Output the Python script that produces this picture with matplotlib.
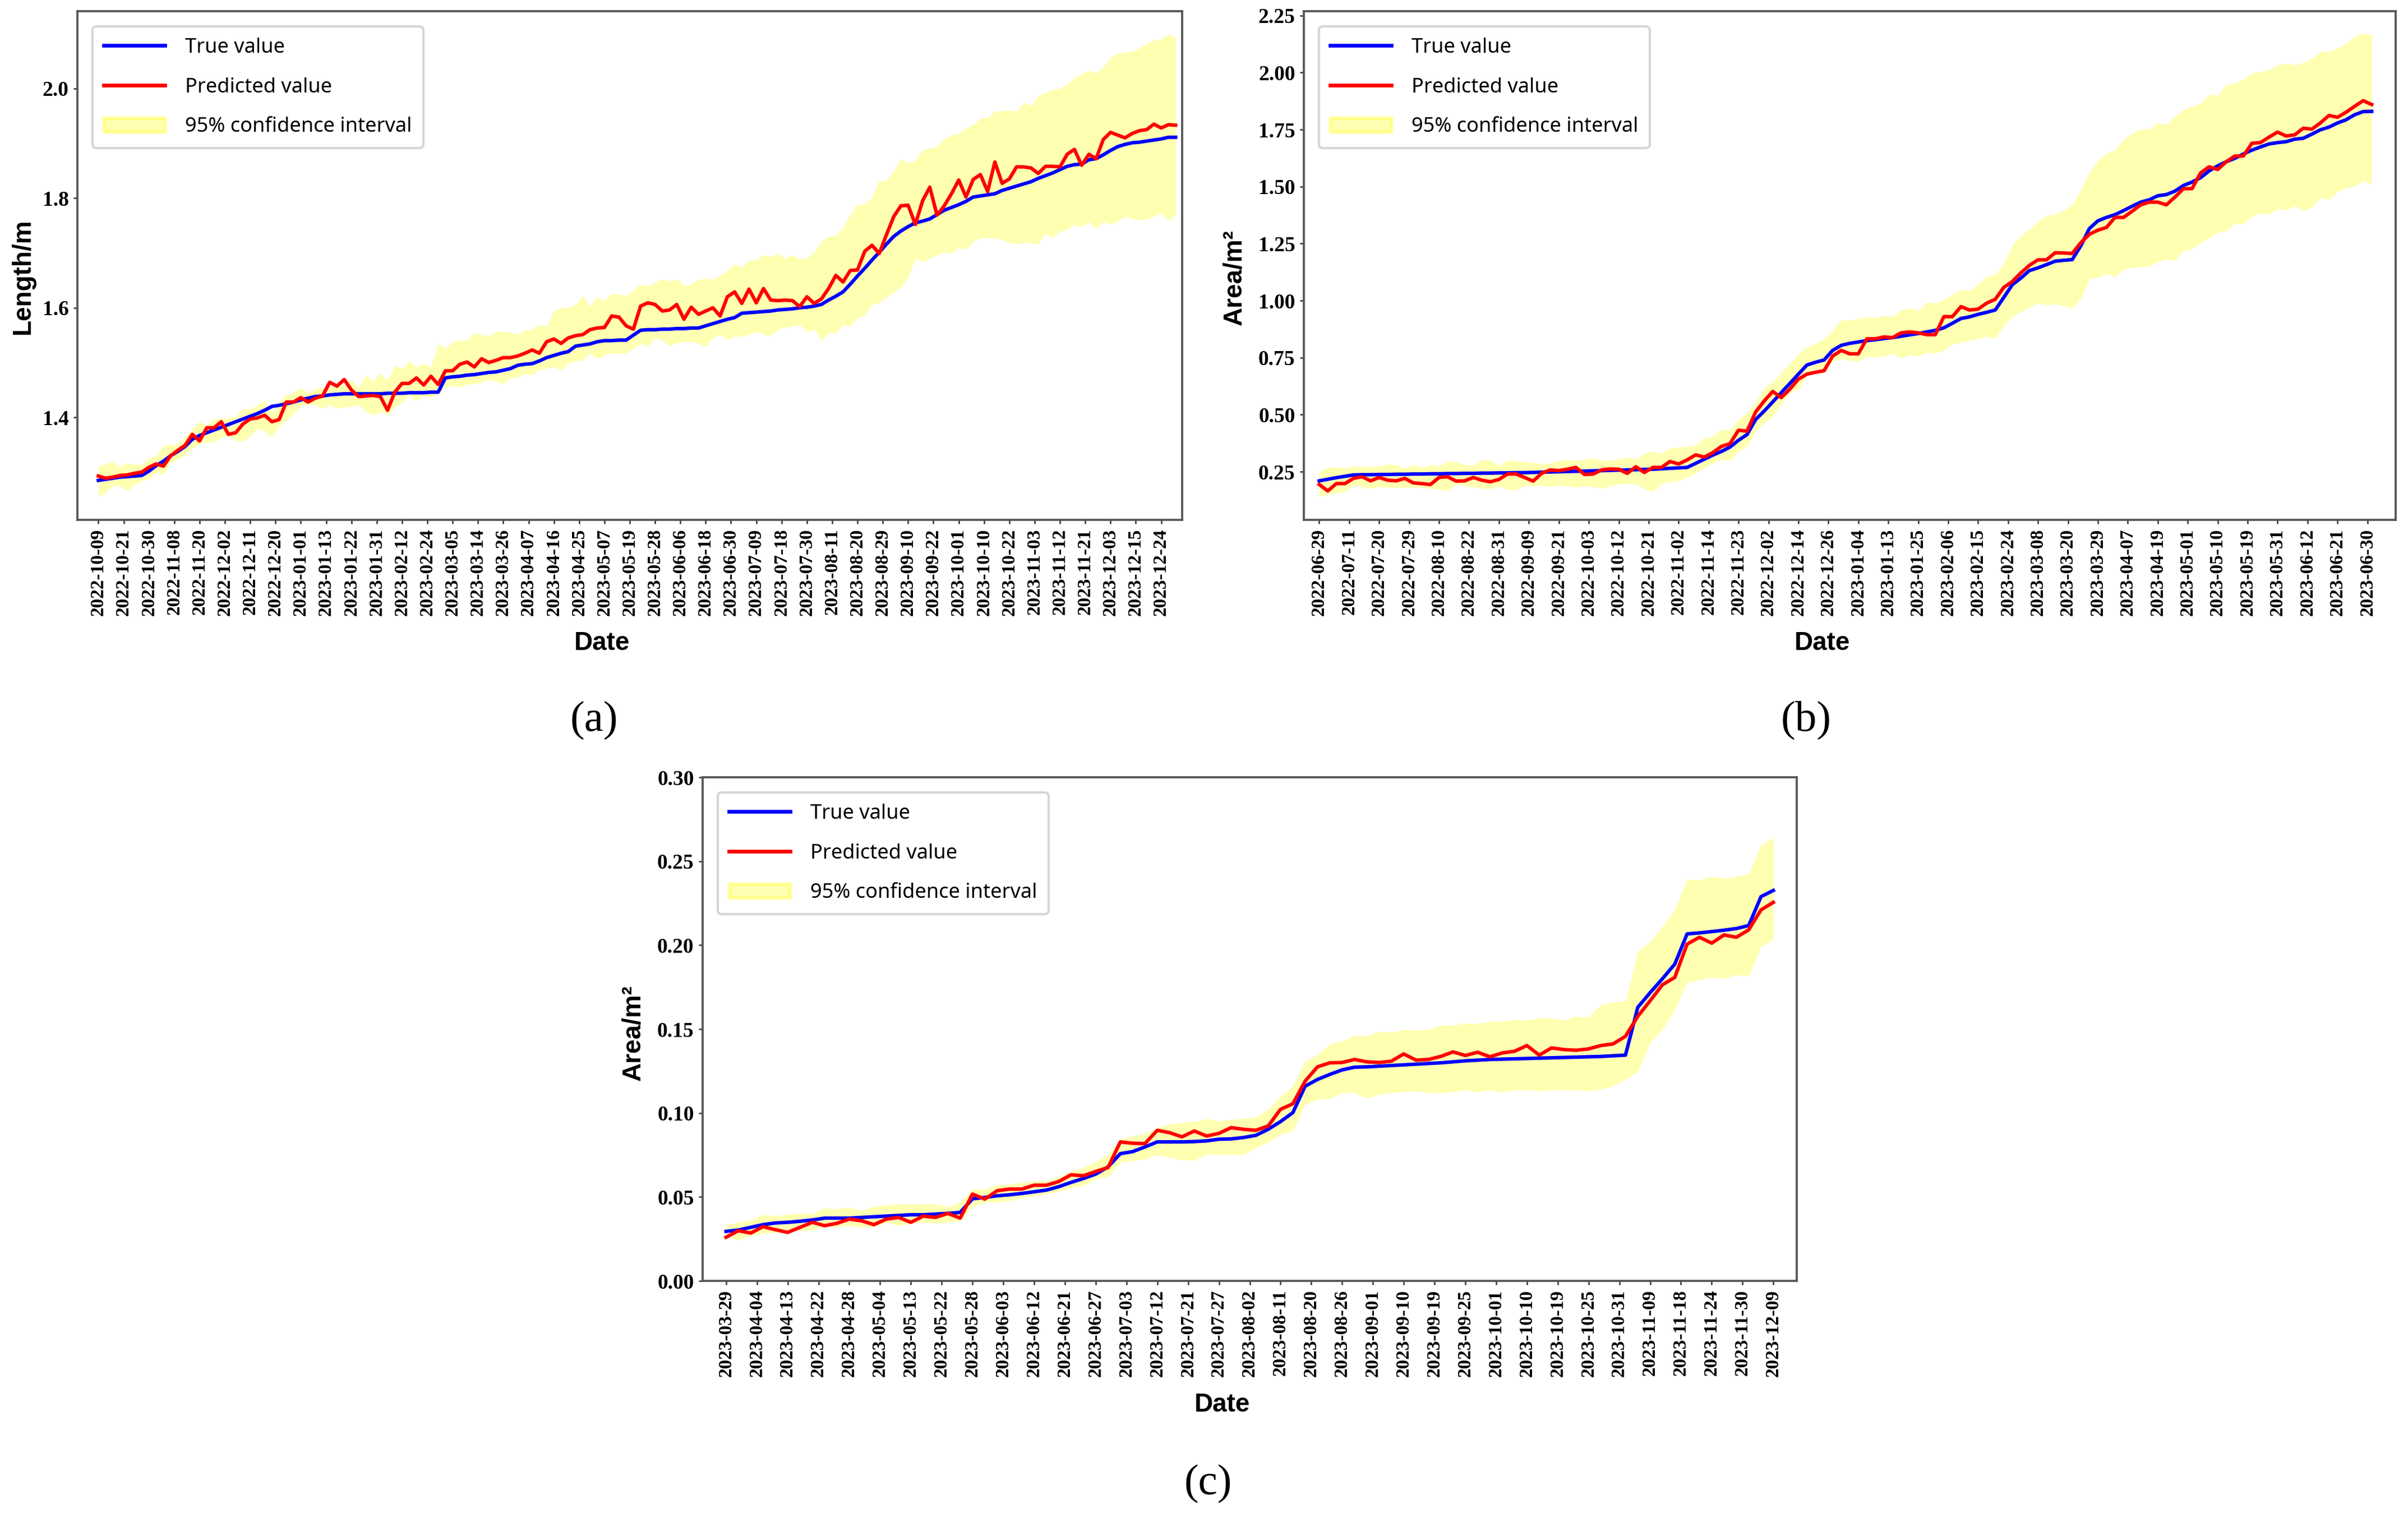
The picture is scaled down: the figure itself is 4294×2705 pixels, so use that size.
import numpy as np
import matplotlib
matplotlib.use("Agg")
import matplotlib.pyplot as plt

# ---------------- data (a) ----------------
a_true = [1.285, 1.287, 1.289, 1.291, 1.292, 1.293, 1.294, 1.302, 1.312, 1.320, 1.330, 1.338, 1.347, 1.360, 1.367, 1.372, 1.377, 1.382, 1.387, 1.392,
          1.397, 1.402, 1.407, 1.413, 1.420, 1.422, 1.425, 1.428, 1.432, 1.435, 1.438, 1.439, 1.441, 1.442, 1.443, 1.443, 1.443, 1.443, 1.443, 1.443,
          1.444, 1.444, 1.444, 1.445, 1.445, 1.445, 1.446, 1.446, 1.472, 1.474, 1.475, 1.477, 1.478, 1.480, 1.482, 1.483, 1.486, 1.489, 1.495, 1.497,
          1.498, 1.503, 1.509, 1.513, 1.517, 1.520, 1.530, 1.532,
          1.534, 1.538, 1.540, 1.540, 1.541, 1.541, 1.550, 1.559, 1.560, 1.560, 1.561, 1.561, 1.562, 1.562, 1.563, 1.563, 1.567, 1.571, 1.575, 1.579,
          1.582, 1.590, 1.591, 1.592, 1.593, 1.594, 1.596, 1.597, 1.598, 1.600, 1.601, 1.603, 1.606, 1.614, 1.621, 1.629, 1.643, 1.658, 1.672, 1.687,
          1.701, 1.716, 1.730, 1.740, 1.748, 1.755, 1.758, 1.762, 1.770, 1.778, 1.783, 1.788, 1.794, 1.802, 1.804, 1.806, 1.808, 1.814, 1.818, 1.822,
          1.826, 1.830, 1.836, 1.841, 1.846, 1.852, 1.858, 1.861, 1.862, 1.870, 1.872, 1.879, 1.887, 1.894, 1.898, 1.901, 1.902, 1.904, 1.906, 1.908,
          1.911, 1.911]
a_pred = [1.293, 1.289, 1.291, 1.294, 1.295, 1.298, 1.300, 1.309, 1.315, 1.311, 1.330, 1.340, 1.349, 1.369, 1.357, 1.381, 1.381, 1.392, 1.369, 1.372,
          1.388, 1.397, 1.399, 1.404, 1.392, 1.396, 1.428, 1.428, 1.436, 1.428, 1.435, 1.439, 1.464, 1.457, 1.469, 1.450, 1.438, 1.439, 1.440, 1.438,
          1.413, 1.446, 1.462, 1.462, 1.472, 1.459, 1.475, 1.460, 1.485, 1.485, 1.497, 1.501, 1.492, 1.507, 1.500, 1.504, 1.509, 1.509, 1.512, 1.517,
          1.523, 1.517, 1.538, 1.543, 1.535, 1.545, 1.549, 1.551,
          1.560, 1.563, 1.564, 1.585, 1.583, 1.567, 1.561, 1.603, 1.609, 1.606, 1.594, 1.596, 1.606, 1.579, 1.601, 1.588, 1.594, 1.600, 1.585, 1.620,
          1.629, 1.608, 1.634, 1.609, 1.635, 1.614, 1.613, 1.614, 1.613, 1.602, 1.620, 1.608, 1.616, 1.635, 1.659, 1.647, 1.668, 1.669, 1.703, 1.714,
          1.699, 1.733, 1.766, 1.786, 1.787, 1.752, 1.795, 1.820, 1.769, 1.786, 1.808, 1.833, 1.802, 1.834, 1.843, 1.812, 1.866, 1.827, 1.835, 1.857,
          1.857, 1.855, 1.845, 1.858, 1.858, 1.857, 1.880, 1.889, 1.860, 1.880, 1.872, 1.907, 1.920, 1.915, 1.910, 1.918, 1.923, 1.925, 1.935, 1.928,
          1.934, 1.933]
a_upper = [1.311, 1.315, 1.319, 1.310, 1.317, 1.314, 1.314, 1.326, 1.330, 1.349, 1.350, 1.352, 1.364, 1.379, 1.393, 1.385, 1.398, 1.398, 1.399, 1.401,
           1.416, 1.415, 1.423, 1.432, 1.408, 1.430, 1.442, 1.445, 1.454, 1.445, 1.453, 1.454, 1.454, 1.461, 1.459, 1.469, 1.454, 1.478, 1.466, 1.481,
           1.467, 1.495, 1.489, 1.503, 1.492, 1.499, 1.492, 1.535, 1.526, 1.538, 1.541, 1.541, 1.554, 1.551, 1.548, 1.557, 1.557, 1.555, 1.551, 1.560,
           1.560, 1.569, 1.566, 1.594, 1.600, 1.600, 1.606, 1.622,
           1.603, 1.619, 1.613, 1.627, 1.624, 1.622, 1.633, 1.642, 1.640, 1.646, 1.653, 1.648, 1.653, 1.640, 1.643, 1.651, 1.654, 1.651, 1.660, 1.668,
           1.680, 1.674, 1.687, 1.687, 1.697, 1.693, 1.699, 1.690, 1.697, 1.689, 1.691, 1.701, 1.721, 1.730, 1.732, 1.747, 1.770, 1.789, 1.789, 1.802,
           1.832, 1.832, 1.850, 1.872, 1.864, 1.869, 1.888, 1.891, 1.894, 1.909, 1.915, 1.918, 1.928, 1.934, 1.946, 1.946, 1.959, 1.959, 1.960, 1.959,
           1.975, 1.969, 1.986, 1.993, 1.998, 2.000, 2.008, 2.019, 2.027, 2.033, 2.028, 2.039, 2.057, 2.064, 2.066, 2.068, 2.074, 2.082, 2.088, 2.090,
           2.099, 2.093]
a_lower = [1.255, 1.263, 1.275, 1.275, 1.266, 1.277, 1.284, 1.287, 1.300, 1.296, 1.317, 1.324, 1.331, 1.343, 1.351, 1.355, 1.355, 1.364, 1.367, 1.357,
           1.357, 1.365, 1.380, 1.374, 1.364, 1.384, 1.395, 1.406, 1.422, 1.423, 1.423, 1.416, 1.423, 1.416, 1.419, 1.419, 1.423, 1.411, 1.404, 1.411,
           1.404, 1.418, 1.427, 1.439, 1.430, 1.439, 1.436, 1.443, 1.455, 1.458, 1.454, 1.461, 1.461, 1.464, 1.469, 1.466, 1.461, 1.472, 1.473, 1.480,
           1.477, 1.487, 1.489, 1.492, 1.486, 1.499, 1.503, 1.504,
           1.517, 1.507, 1.514, 1.517, 1.517, 1.517, 1.526, 1.535, 1.529, 1.545, 1.541, 1.530, 1.536, 1.538, 1.538, 1.535, 1.529, 1.545, 1.551, 1.541,
           1.548, 1.548, 1.551, 1.557, 1.551, 1.549, 1.560, 1.564, 1.566, 1.569, 1.555, 1.561, 1.540, 1.554, 1.554, 1.569, 1.566, 1.582, 1.586, 1.606,
           1.609, 1.619, 1.628, 1.637, 1.656, 1.690, 1.684, 1.690, 1.696, 1.702, 1.699, 1.710, 1.706, 1.721, 1.727, 1.727, 1.727, 1.724, 1.719, 1.716,
           1.719, 1.718, 1.716, 1.736, 1.727, 1.740, 1.742, 1.752, 1.747, 1.757, 1.744, 1.757, 1.752, 1.758, 1.767, 1.761, 1.761, 1.761, 1.767, 1.773,
           1.759, 1.770]
a_ticklabels = ['2022-10-09', '2022-10-21', '2022-10-30', '2022-11-08', '2022-11-20', '2022-12-02', '2022-12-11', '2022-12-20',
                '2023-01-01', '2023-01-13', '2023-01-22', '2023-01-31', '2023-02-12', '2023-02-24', '2023-03-05', '2023-03-14',
                '2023-03-26', '2023-04-07', '2023-04-16', '2023-04-25', '2023-05-07', '2023-05-19', '2023-05-28', '2023-06-06',
                '2023-06-18', '2023-06-30', '2023-07-09', '2023-07-18', '2023-07-30', '2023-08-11', '2023-08-20', '2023-08-29',
                '2023-09-10', '2023-09-22', '2023-10-01', '2023-10-10', '2023-10-22', '2023-11-03', '2023-11-12', '2023-11-21',
                '2023-12-03', '2023-12-15', '2023-12-24']
a_yticks = [1.4, 1.6, 1.8, 2.0]

# ---------------- data (b) ----------------
b_true = [0.210, 0.217, 0.224, 0.230, 0.236, 0.237, 0.237, 0.238, 0.238, 0.239, 0.239, 0.240, 0.240, 0.241, 0.241, 0.242, 0.242, 0.243, 0.243, 0.244,
          0.244, 0.245, 0.245, 0.246, 0.246, 0.247, 0.248, 0.249, 0.250, 0.251, 0.252, 0.253, 0.254, 0.255, 0.256, 0.257, 0.258, 0.259, 0.260, 0.261,
          0.263, 0.265, 0.267,
          0.269, 0.287, 0.305, 0.323, 0.339, 0.358, 0.388, 0.413, 0.479, 0.516, 0.556, 0.597, 0.637, 0.678, 0.718, 0.730, 0.740, 0.782, 0.804,
          0.813, 0.819, 0.825, 0.829, 0.834, 0.838, 0.844, 0.850, 0.856, 0.863, 0.870, 0.881, 0.901, 0.922, 0.929, 0.940, 0.949, 0.959, 1.014, 1.070,
          1.099, 1.132, 1.144, 1.158, 1.173, 1.177, 1.180, 1.240, 1.316, 1.350, 1.365, 1.377, 1.395, 1.414, 1.432, 1.442, 1.460, 1.465, 1.480, 1.505,
          1.520, 1.539, 1.569, 1.591, 1.609, 1.624, 1.643, 1.660, 1.674, 1.687, 1.693, 1.697, 1.708, 1.712, 1.730, 1.749, 1.761, 1.779, 1.793, 1.815,
          1.829, 1.830]
b_pred = [0.194, 0.166, 0.198, 0.198, 0.221, 0.228, 0.210, 0.225, 0.213, 0.210, 0.221, 0.201, 0.198, 0.194, 0.225, 0.228, 0.209, 0.210, 0.225, 0.213,
          0.206, 0.216, 0.240, 0.240, 0.225, 0.209, 0.243, 0.258, 0.255, 0.261, 0.269, 0.238, 0.240, 0.258, 0.262, 0.261, 0.243, 0.272, 0.247, 0.269,
          0.269, 0.295, 0.284, 0.302, 0.324, 0.314, 0.334, 0.361, 0.373, 0.432, 0.428, 0.512, 0.560, 0.602, 0.575, 0.612, 0.656, 0.678, 0.686, 0.693,
          0.757, 0.782,
          0.767, 0.767, 0.833, 0.833, 0.841, 0.838, 0.859, 0.863, 0.859, 0.851, 0.851, 0.930, 0.930, 0.974, 0.959, 0.963, 0.989, 1.006, 1.058, 1.084,
          1.122, 1.155, 1.179, 1.179, 1.210, 1.209, 1.207, 1.254, 1.291, 1.309, 1.321, 1.365, 1.365, 1.392, 1.420, 1.432, 1.432, 1.420, 1.454, 1.491,
          1.491, 1.560, 1.587, 1.575, 1.609, 1.634, 1.634, 1.690, 1.693, 1.717, 1.739, 1.722, 1.727, 1.756, 1.752, 1.779, 1.812, 1.804, 1.826, 1.852,
          1.877, 1.860]
b_upper = [0.250, 0.269, 0.272, 0.265, 0.275, 0.272, 0.272, 0.275, 0.284, 0.280, 0.265, 0.280, 0.268, 0.280, 0.275, 0.295, 0.295, 0.280, 0.280, 0.302,
           0.302, 0.275, 0.302, 0.299, 0.295, 0.290, 0.284, 0.287, 0.299, 0.302, 0.299, 0.305, 0.309, 0.299, 0.299, 0.305, 0.314, 0.305, 0.331, 0.339,
           0.331, 0.354, 0.358, 0.361, 0.368, 0.398, 0.405, 0.435, 0.432, 0.479, 0.509, 0.553, 0.619, 0.642, 0.686, 0.723, 0.767, 0.797, 0.811, 0.833,
           0.870, 0.915,
           0.915, 0.922, 0.929, 0.925, 0.934, 0.929, 0.959, 0.969, 0.955, 0.993, 0.989, 1.003, 1.028, 1.048, 1.043, 1.073, 1.107, 1.114, 1.161, 1.244,
           1.284, 1.313, 1.347, 1.373, 1.380, 1.395, 1.421, 1.486, 1.560, 1.616, 1.646, 1.660, 1.705, 1.734, 1.752, 1.752, 1.779, 1.771, 1.808, 1.838,
           1.852, 1.864, 1.904, 1.900, 1.948, 1.953, 1.970, 1.997, 2.003, 2.012, 2.033, 2.041, 2.033, 2.044, 2.062, 2.092, 2.092, 2.106, 2.126, 2.158,
           2.173, 2.165]
b_lower = [0.139, 0.151, 0.157, 0.162, 0.191, 0.184, 0.176, 0.184, 0.181, 0.181, 0.181, 0.181, 0.181, 0.176, 0.172, 0.166, 0.196, 0.187, 0.184, 0.176,
           0.176, 0.187, 0.172, 0.169, 0.191, 0.187, 0.191, 0.184, 0.191, 0.187, 0.181, 0.187, 0.184, 0.176, 0.187, 0.196, 0.198, 0.196, 0.176, 0.162,
           0.198, 0.206, 0.210, 0.225, 0.243, 0.268, 0.287, 0.302, 0.299, 0.339, 0.361, 0.428, 0.464, 0.494, 0.546, 0.597, 0.612, 0.671, 0.701, 0.701,
           0.733, 0.745,
           0.737, 0.734, 0.757, 0.752, 0.757, 0.767, 0.748, 0.763, 0.757, 0.772, 0.770, 0.782, 0.811, 0.816, 0.826, 0.831, 0.844, 0.833, 0.890, 0.929,
           0.952, 0.969, 0.989, 0.981, 0.986, 0.978, 0.966, 1.008, 1.096, 1.102, 1.117, 1.105, 1.136, 1.147, 1.147, 1.151, 1.170, 1.181, 1.176, 1.220,
           1.225, 1.254, 1.273, 1.299, 1.306, 1.339, 1.336, 1.368, 1.384, 1.380, 1.402, 1.398, 1.414, 1.395, 1.409, 1.451, 1.443, 1.476, 1.495, 1.501,
           1.525, 1.510]
b_ticklabels = ['2022-06-29', '2022-07-11', '2022-07-20', '2022-07-29', '2022-08-10', '2022-08-22', '2022-08-31', '2022-09-09',
                '2022-09-21', '2022-10-03', '2022-10-12', '2022-10-21', '2022-11-02', '2022-11-14', '2022-11-23', '2022-12-02',
                '2022-12-14', '2022-12-26', '2023-01-04', '2023-01-13', '2023-01-25', '2023-02-06', '2023-02-15', '2023-02-24',
                '2023-03-08', '2023-03-20', '2023-03-29', '2023-04-07', '2023-04-19', '2023-05-01', '2023-05-10', '2023-05-19',
                '2023-05-31', '2023-06-12', '2023-06-21', '2023-06-30']
b_yticks = [0.25, 0.50, 0.75, 1.00, 1.25, 1.50, 1.75, 2.00, 2.25]

# ---------------- data (c) ----------------
c_true = [0.0295, 0.0303, 0.0319, 0.0335, 0.0345, 0.0349, 0.0355, 0.0363, 0.0374, 0.0374, 0.0374, 0.0378, 0.0382, 0.0386, 0.0390, 0.0394, 0.0394,
          0.0398, 0.0402, 0.0408, 0.0489, 0.0497, 0.0507, 0.0513, 0.0521, 0.0531, 0.0541, 0.0561, 0.0587, 0.0610, 0.0636, 0.0679, 0.0758, 0.0770,
          0.0798, 0.0828, 0.0828, 0.0828, 0.0830, 0.0834, 0.0844, 0.0846, 0.0854,
          0.0867, 0.0903, 0.0949, 0.1002, 0.1160, 0.1200, 0.1230, 0.1257, 0.1273, 0.1275, 0.1279, 0.1283, 0.1287, 0.1291, 0.1295, 0.1299, 0.1305,
          0.1311, 0.1315, 0.1319, 0.1321, 0.1323, 0.1325, 0.1327, 0.1329, 0.1331, 0.1333, 0.1335, 0.1337, 0.1341, 0.1345, 0.1630, 0.1717, 0.1800,
          0.1887, 0.2067, 0.2073, 0.2081, 0.2089, 0.2099, 0.2117, 0.2289, 0.2326]
c_pred = [0.0260, 0.0299, 0.0285, 0.0323, 0.0305, 0.0289, 0.0319, 0.0349, 0.0329, 0.0343, 0.0368, 0.0358, 0.0335, 0.0368, 0.0378, 0.0349, 0.0386,
          0.0378, 0.0402, 0.0374, 0.0517, 0.0487, 0.0537, 0.0547, 0.0547, 0.0570, 0.0570, 0.0592, 0.0632, 0.0626, 0.0652, 0.0675, 0.0828, 0.0820,
          0.0818, 0.0897, 0.0883, 0.0858, 0.0893, 0.0863, 0.0879, 0.0913, 0.0903,
          0.0897, 0.0923, 0.1022, 0.1055, 0.1190, 0.1275, 0.1299, 0.1301, 0.1319, 0.1305, 0.1301, 0.1309, 0.1352, 0.1315, 0.1319, 0.1337, 0.1364,
          0.1343, 0.1362, 0.1335, 0.1358, 0.1368, 0.1402, 0.1345, 0.1388, 0.1378, 0.1374, 0.1382, 0.1402, 0.1412, 0.1457, 0.1576, 0.1669, 0.1764,
          0.1808, 0.2006, 0.2047, 0.2012, 0.2061, 0.2047, 0.2091, 0.2210, 0.2255]
c_upper = [0.0335, 0.0349, 0.0363, 0.0394, 0.0388, 0.0398, 0.0402, 0.0402, 0.0434, 0.0428, 0.0438, 0.0418, 0.0442, 0.0454, 0.0458, 0.0458, 0.0458,
           0.0458, 0.0442, 0.0468, 0.0547, 0.0547, 0.0572, 0.0576, 0.0586, 0.0596, 0.0596, 0.0620, 0.0652, 0.0675, 0.0709, 0.0755, 0.0844, 0.0863,
           0.0877, 0.0913, 0.0933, 0.0943, 0.0949, 0.0968, 0.0953, 0.0962, 0.0968,
           0.0976, 0.1022, 0.1101, 0.1160, 0.1309, 0.1348, 0.1412, 0.1428, 0.1461, 0.1461, 0.1487, 0.1481, 0.1497, 0.1493, 0.1497, 0.1523, 0.1523,
           0.1535, 0.1533, 0.1547, 0.1547, 0.1557, 0.1552, 0.1566, 0.1566, 0.1552, 0.1576, 0.1570, 0.1645, 0.1661, 0.1669, 0.1962, 0.2022, 0.2111,
           0.2210, 0.2394, 0.2388, 0.2408, 0.2398, 0.2408, 0.2424, 0.2596, 0.2641]
c_lower = [0.0260, 0.0244, 0.0269, 0.0283, 0.0289, 0.0295, 0.0299, 0.0299, 0.0329, 0.0319, 0.0329, 0.0319, 0.0323, 0.0349, 0.0329, 0.0343, 0.0349,
           0.0343, 0.0349, 0.0358, 0.0442, 0.0468, 0.0468, 0.0477, 0.0493, 0.0507, 0.0517, 0.0533, 0.0553, 0.0567, 0.0606, 0.0620, 0.0705, 0.0715,
           0.0725, 0.0751, 0.0735, 0.0719, 0.0719, 0.0755, 0.0751, 0.0751, 0.0751,
           0.0794, 0.0824, 0.0873, 0.0893, 0.1052, 0.1081, 0.1085, 0.1121, 0.1121, 0.1087, 0.1111, 0.1121, 0.1127, 0.1131, 0.1121, 0.1121, 0.1125,
           0.1137, 0.1125, 0.1137, 0.1125, 0.1137, 0.1137, 0.1131, 0.1137, 0.1137, 0.1137, 0.1131, 0.1141, 0.1160, 0.1200, 0.1249, 0.1418, 0.1497,
           0.1616, 0.1778, 0.1794, 0.1808, 0.1800, 0.1824, 0.1814, 0.1992, 0.2035]
c_ticklabels = ['2023-03-29', '2023-04-04', '2023-04-13', '2023-04-22', '2023-04-28', '2023-05-04', '2023-05-13', '2023-05-22',
                '2023-05-28', '2023-06-03', '2023-06-12', '2023-06-21', '2023-06-27', '2023-07-03', '2023-07-12', '2023-07-21',
                '2023-07-27', '2023-08-02', '2023-08-11', '2023-08-20', '2023-08-26', '2023-09-01', '2023-09-10', '2023-09-19',
                '2023-09-25', '2023-10-01', '2023-10-10', '2023-10-19', '2023-10-25', '2023-10-31', '2023-11-09', '2023-11-18',
                '2023-11-24', '2023-11-30', '2023-12-09']
c_yticks = [0.00, 0.05, 0.10, 0.15, 0.20, 0.25, 0.30]

# ---------------- figure ----------------
W, H = 4294, 2705
fig = plt.figure(figsize=(W / 300, H / 300), dpi=300)

TICK_FONT = 'Liberation Serif'
LEG_FONT = ['Noto Sans', 'DejaVu Sans']
LAB_FONT = ['Liberation Sans', 'DejaVu Sans']


def panel(rect, true, pred, lower, upper, ticklabels, tickstep, yticks, yfmt,
          ylim, xlim, ylabel, ylab_xy, xlab_y):
    ax = fig.add_axes(rect)
    n = min(len(lower), len(upper))
    band = ax.fill_between(np.arange(n), lower[:n], upper[:n], color='yellow', alpha=0.3,
                           linewidth=0, label='95% confidence interval')
    l1, = ax.plot(np.arange(len(true)), true, color='blue', lw=1.5, label='True value')
    l2, = ax.plot(np.arange(len(pred)), pred, color='red', lw=1.5, label='Predicted value')
    ax.set_xlim(*xlim)
    ax.set_ylim(*ylim)
    ax.set_xticks(np.arange(len(ticklabels)) * tickstep)
    ax.set_xticklabels(ticklabels, rotation=90, fontfamily=TICK_FONT,
                       fontweight='bold', fontsize=8)
    ax.set_yticks(yticks)
    ax.set_yticklabels([yfmt.format(v) for v in yticks], fontfamily=TICK_FONT,
                       fontweight='bold', fontsize=9)
    ax.tick_params(axis='both', length=1.7, width=0.6, pad=2, color='#333333')
    for s in ax.spines.values():
        s.set_color('#555555')
        s.set_linewidth(0.9)
    ax.set_ylabel(ylabel, fontfamily=LAB_FONT, fontweight='bold', fontsize=11)
    ax.yaxis.set_label_coords(*ylab_xy)
    ax.set_xlabel('Date', fontfamily=LAB_FONT, fontweight='bold', fontsize=11)
    ax.xaxis.set_label_coords(0.475, xlab_y)
    ax.xaxis.label.set_va('top')
    leg = ax.legend(handles=[l1, l2, band],
                    labels=['True value', 'Predicted value', '95% confidence interval'],
                    loc='upper left', prop={'family': LEG_FONT, 'size': 8.7},
                    borderaxespad=0.75, borderpad=0.55, handlelength=3.0,
                    handletextpad=1.0, labelspacing=0.95, framealpha=0.8)
    for h in leg.legend_handles:
        if hasattr(h, 'set_linewidth') and not hasattr(h, 'get_paths'):
            h.set_linewidth(1.6)
    return ax


panel([138 / W, 1 - 927 / H, 1970 / W, 907 / H], a_true, a_pred, a_lower, a_upper,
      a_ticklabels, 3.5, a_yticks, '{:.1f}', (1.213, 2.141), (-2.9, 149.9),
      'Length/m', (-0.038, 0.4785), -0.218)

panel([2325 / W, 1 - 927 / H, 1947 / W, 907 / H], b_true, b_pred, b_lower, b_upper,
      b_ticklabels, 3.5, b_yticks, '{:.2f}', (0.039, 2.269), (-1.8, 125.8),
      'Area/m²', (-0.052, 0.477), -0.218)

panel([1253 / W, 1 - 2284 / H, 1951 / W, 898 / H], c_true, c_pred, c_lower, c_upper,
      c_ticklabels, 2.5, c_yticks, '{:.2f}', (0.0, 0.30), (-1.9, 86.9),
      'Area/m²', (-0.052, 0.493), -0.222)

for txt, (px, py) in [('(a)', (1059, 1284)), ('(b)', (3221, 1284)), ('(c)', (2154, 2645))]:
    fig.text(px / W, 1 - py / H, txt, ha='center', va='center',
             fontfamily='Liberation Serif', fontsize=18.5)

fig.savefig('out.png', dpi=300)
